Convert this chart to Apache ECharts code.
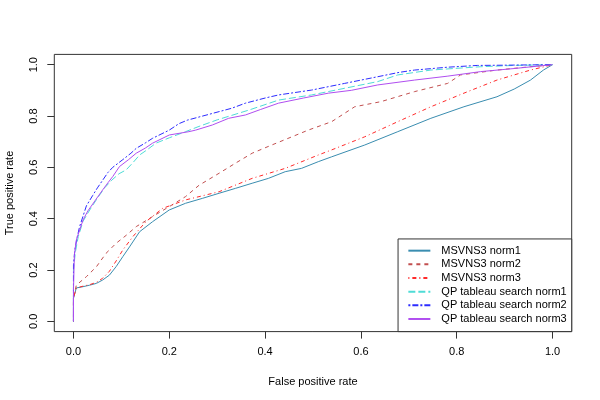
<!DOCTYPE html>
<html>
<head>
<meta charset="utf-8">
<script src="https://cdn.jsdelivr.net/npm/echarts@6/dist/echarts.min.js"></script>
<style>html,body{margin:0;padding:0;background:#fff}#c{width:600px;height:400px}</style>
</head>
<body>
<div id="c"></div>
<script>
const seriesNames = ['MSVNS3 norm1','MSVNS3 norm2','MSVNS3 norm3','QP tableau search norm1','QP tableau search norm2','QP tableau search norm3'];
const tickValues = [0, 0.2, 0.4, 0.6, 0.8, 1.0];

const msvnsNorm1 = [[0,0],[0,0.09],[0.006,0.13],[0.02,0.135],[0.034,0.141],[0.048,0.148],[0.061,0.161],[0.075,0.18],[0.089,0.213],[0.103,0.252],[0.117,0.29],[0.138,0.349],[0.165,0.388],[0.2,0.434],[0.234,0.46],[0.269,0.479],[0.304,0.499],[0.338,0.518],[0.373,0.538],[0.407,0.557],[0.442,0.583],[0.476,0.596],[0.511,0.622],[0.539,0.641],[0.608,0.687],[0.677,0.739],[0.746,0.791],[0.815,0.836],[0.884,0.875],[0.92,0.905],[0.954,0.94],[0.981,0.979],[1,1]];
const msvnsNorm2 = [[0,0],[0,0.09],[0.006,0.141],[0.027,0.174],[0.048,0.213],[0.068,0.265],[0.089,0.304],[0.11,0.335],[0.131,0.369],[0.165,0.408],[0.2,0.447],[0.234,0.486],[0.262,0.53],[0.304,0.577],[0.338,0.616],[0.373,0.655],[0.414,0.687],[0.456,0.719],[0.49,0.745],[0.539,0.778],[0.587,0.836],[0.642,0.856],[0.712,0.895],[0.781,0.927],[0.808,0.96],[0.884,0.979],[0.954,0.992],[1,1]];
const msvnsNorm3 = [[0,0],[0,0.09],[0.006,0.13],[0.02,0.137],[0.034,0.143],[0.048,0.152],[0.061,0.168],[0.075,0.195],[0.089,0.235],[0.103,0.278],[0.124,0.33],[0.151,0.388],[0.186,0.44],[0.234,0.473],[0.304,0.505],[0.373,0.557],[0.442,0.596],[0.511,0.648],[0.539,0.668],[0.608,0.719],[0.677,0.778],[0.746,0.836],[0.815,0.889],[0.884,0.94],[0.954,0.979],[1,1]];
const qpNorm1 = [[0,0],[0,0.2],[0.004,0.27],[0.01,0.33],[0.02,0.39],[0.034,0.434],[0.05,0.48],[0.065,0.52],[0.08,0.55],[0.095,0.575],[0.11,0.59],[0.125,0.62],[0.138,0.648],[0.155,0.67],[0.172,0.694],[0.2,0.715],[0.234,0.739],[0.26,0.758],[0.3,0.785],[0.366,0.823],[0.428,0.862],[0.497,0.882],[0.566,0.908],[0.635,0.934],[0.677,0.96],[0.746,0.979],[0.85,0.992],[0.92,0.997],[1,1]];
const qpNorm2 = [[0,0],[0,0.22],[0.003,0.28],[0.008,0.33],[0.013,0.37],[0.02,0.41],[0.027,0.45],[0.04,0.49],[0.05,0.52],[0.061,0.55],[0.072,0.58],[0.082,0.6],[0.103,0.63],[0.12,0.655],[0.131,0.674],[0.15,0.695],[0.165,0.713],[0.2,0.745],[0.22,0.77],[0.238,0.784],[0.29,0.81],[0.33,0.83],[0.359,0.85],[0.4,0.87],[0.428,0.882],[0.497,0.901],[0.566,0.927],[0.635,0.953],[0.68,0.97],[0.712,0.979],[0.78,0.99],[0.843,0.997],[0.9,0.998],[1,1]];
const qpNorm3 = [[0,0],[0,0.12],[0.002,0.26],[0.006,0.317],[0.013,0.356],[0.02,0.395],[0.03,0.43],[0.045,0.47],[0.061,0.512],[0.072,0.54],[0.082,0.564],[0.096,0.603],[0.115,0.63],[0.131,0.655],[0.15,0.675],[0.165,0.694],[0.2,0.726],[0.241,0.739],[0.255,0.745],[0.29,0.765],[0.324,0.791],[0.359,0.804],[0.39,0.825],[0.428,0.85],[0.48,0.87],[0.532,0.889],[0.58,0.9],[0.635,0.921],[0.712,0.94],[0.78,0.955],[0.85,0.973],[0.92,0.985],[1,1]];

const allData = [msvnsNorm1, msvnsNorm2, msvnsNorm3, qpNorm1, qpNorm2, qpNorm3];
const colors = ['#3a8db0', '#c24f4f', '#ff2a2a', '#4fdcd6', '#2c2cff', '#b04ef0'];
const dashes = ['solid', [4,4], [1,3,4,3], [7,3], [2,2,6,2], 'solid'];

const FONT = '"Liberation Sans", Arial, Helvetica, sans-serif';
const chart = echarts.init(document.getElementById('c'), null, {renderer: 'canvas'});

const axisCommon = {
  type: 'value', min: -0.04, max: 1.04,
  axisLine: {show: false, onZero: false},
  splitLine: {show: false},
  axisTick: {show: true, customValues: tickValues, length: 7, inside: false, lineStyle: {color: '#333', width: 1}},
  axisLabel: {customValues: tickValues, formatter: v => v.toFixed(1), color: '#000', fontSize: 11, fontFamily: FONT},
  nameLocation: 'middle',
  nameTextStyle: {color: '#000', fontSize: 11, fontFamily: FONT}
};

chart.setOption({
  animation: false,
  backgroundColor: '#fff',
  grid: {left: 54.3, right: 28.3, top: 54.4, bottom: 68.4, show: true, borderColor: '#333', borderWidth: 1, backgroundColor: 'transparent', containLabel: false, outerBoundsMode: 'none'},
  xAxis: Object.assign({}, axisCommon, {
    name: 'False positive rate', nameGap: 45,
    axisLabel: Object.assign({}, axisCommon.axisLabel, {margin: 15})
  }),
  yAxis: Object.assign({}, axisCommon, {
    name: 'True positive rate', nameGap: 39,
    axisLabel: Object.assign({}, axisCommon.axisLabel, {margin: 15, rotate: 90})
  }),
  legend: {
    orient: 'vertical', right: 28.3, bottom: 68.4,
    padding: [4.9, 5, 5.8, 9.3],
    borderColor: '#333', borderWidth: 1, backgroundColor: '#fff',
    itemWidth: 22, itemHeight: 10, itemGap: 0,
    itemStyle: {opacity: 0},
    textStyle: {color: '#000', fontSize: 11, lineHeight: 13.66, fontFamily: FONT, padding: [0,0,0,6]},
    data: seriesNames
  },
  series: allData.map((d, i) => ({
    name: seriesNames[i], type: 'line', data: d, symbol: 'none',
    lineStyle: {color: colors[i], width: 1, type: dashes[i]},
    itemStyle: {color: colors[i]},
    emphasis: {disabled: true}, z: 2 + i
  }))
});
</script>
</body>
</html>
